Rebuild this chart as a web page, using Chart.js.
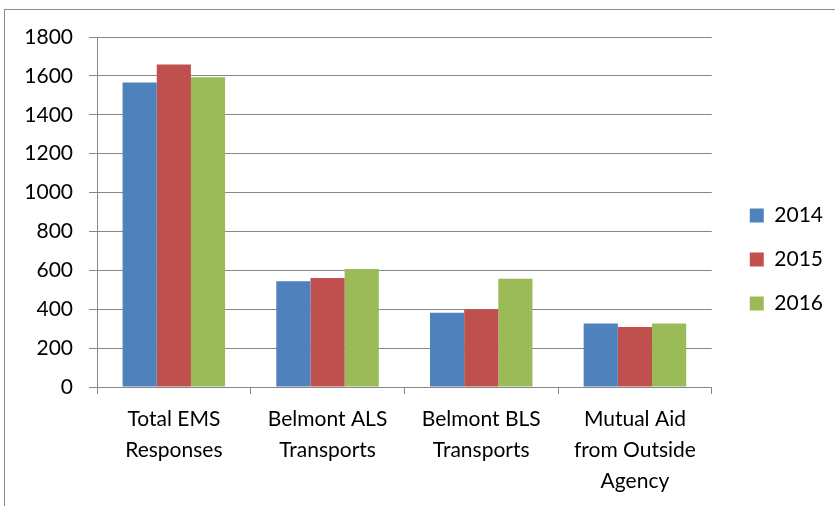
<!DOCTYPE html>
<html>
<head>
<meta charset="utf-8">
<script src="https://cdn.jsdelivr.net/npm/chart.js@4"></script>
<style>
  html, body { margin: 0; padding: 0; background: #fff; overflow: hidden; }
  #wrap { position: absolute; left: 0; top: 0; width: 835px; height: 506px; }
  #frame { position: absolute; left: 4px; top: 9px; width: 900px; height: 600px; border: 1px solid #8c8c8c; }
</style>
</head>
<body>
<div id="frame"></div>
<div id="wrap"><canvas id="emsChart"></canvas></div>
<script>
// Chart data
const categories = [
    ['Total EMS', 'Responses'],
    ['Belmont ALS', 'Transports'],
    ['Belmont BLS', 'Transports'],
    ['Mutual Aid', 'from Outside', 'Agency']
];
const years = ['2014', '2015', '2016'];
const values2014 = [1566, 544, 382, 327];
const values2015 = [1658, 561, 400, 308];
const values2016 = [1593, 607, 557, 327];
const yTicks = [0, 200, 400, 600, 800, 1000, 1200, 1400, 1600, 1800];

const colors = ['#4F81BD', '#C0504D', '#9BBB59'];
const gridColor = '#868686';
const fontFamily = 'Lato, "Open Sans", sans-serif';

// nudge the legend so it sits where the original one is
const legendShift = {
    id: 'legendShift',
    afterLayout(chart) {
        const lg = chart.legend;
        lg.left += 15; lg.right += 15;
        lg.top -= 12; lg.bottom -= 12;
    }
};

const ctx = document.getElementById('emsChart').getContext('2d');
new Chart(ctx, {
    type: 'bar',
    data: {
        labels: categories,
        datasets: [values2014, values2015, values2016].map((vals, i) => ({
            label: years[i],
            data: vals,
            backgroundColor: colors[i],
            borderWidth: 0,
            categoryPercentage: 0.667,
            barPercentage: 1
        }))
    },
    options: {
        responsive: true,
        maintainAspectRatio: false,
        animation: false,
        layout: { padding: { top: 37, right: 17, bottom: 0, left: 0 } },
        plugins: {
            tooltip: { enabled: false },
            legend: {
                position: 'right',
                labels: {
                    boxWidth: 14,
                    boxHeight: 14,
                    padding: 23,
                    color: '#000',
                    font: { family: fontFamily, size: 21, lineHeight: 1 }
                }
            }
        },
        scales: {
            x: {
                grid: { drawOnChartArea: false, offset: true, color: gridColor, tickLength: 7 },
                border: { color: gridColor },
                ticks: {
                    color: '#000',
                    padding: 10,
                    maxRotation: 0,
                    autoSkip: false,
                    font: { family: fontFamily, size: 21, lineHeight: 1.48 }
                },
                afterFit(scale) { scale.height = 119; }
            },
            y: {
                min: yTicks[0],
                max: yTicks[yTicks.length - 1],
                grid: { color: gridColor, tickLength: 8 },
                border: { color: gridColor },
                afterBuildTicks(scale) { scale.ticks = yTicks.map(v => ({ value: v })); },
                ticks: {
                    color: '#000',
                    padding: 16,
                    font: { family: fontFamily, size: 21 },
                    callback: value => String(value)
                },
                afterFit(scale) { scale.width = 97; }
            }
        }
    },
    plugins: [legendShift]
});
</script>
</body>
</html>
